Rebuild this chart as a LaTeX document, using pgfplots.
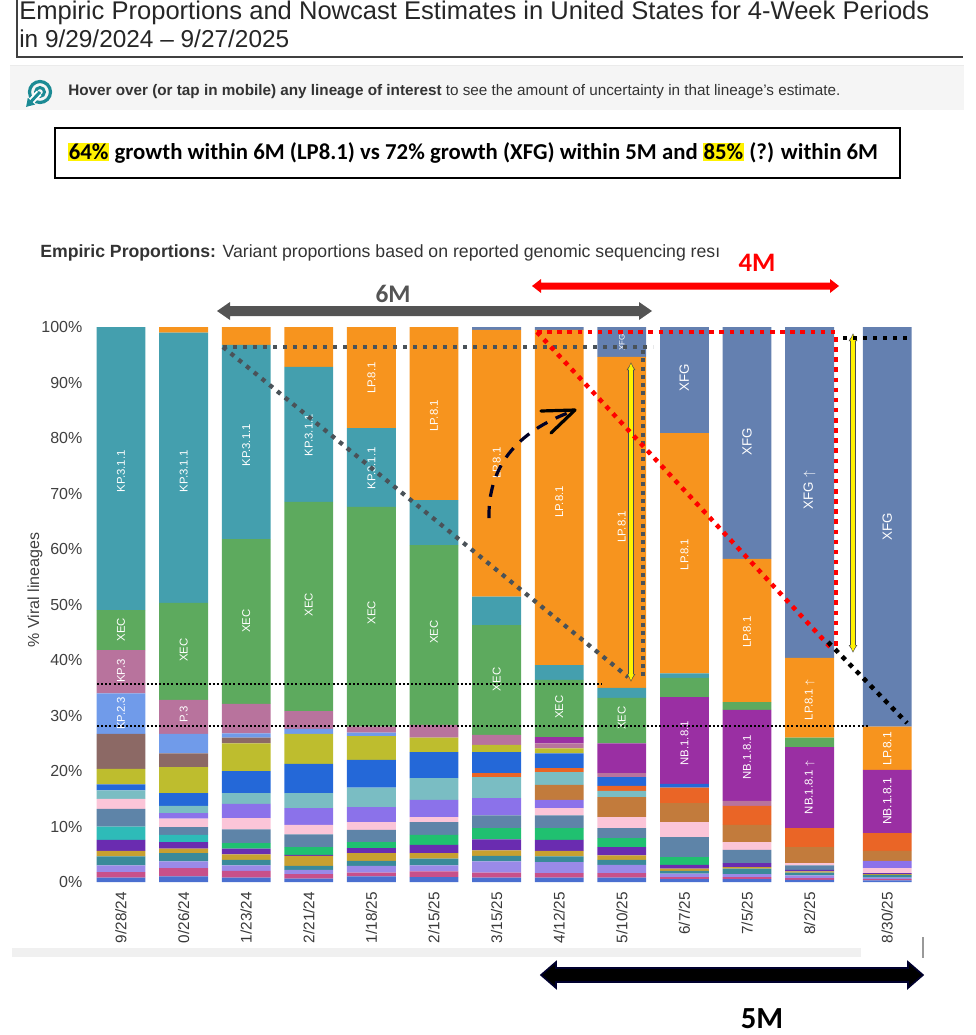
\documentclass[border=0pt]{standalone}
\usepackage{fontspec}
\setmainfont{Liberation Sans}
\newfontfamily\carlito{Carlito}
\usepackage{graphicx}
\usepackage{pgfplots}
\usepackage{pgfplotstable}
\pgfplotsset{compat=1.18}
\usetikzlibrary{arrows.meta}

\definecolor{cte}{HTML}{449FAE}
\definecolor{cxe}{HTML}{5DAA5E}
\definecolor{clp}{HTML}{F7941E}
\definecolor{cxf}{HTML}{6480B0}
\definecolor{cpu}{HTML}{9A2FA3}
\definecolor{cma}{HTML}{B8739D}
\definecolor{clb}{HTML}{709BEA}
\definecolor{cbr}{HTML}{8C6965}
\definecolor{col}{HTML}{BEBD2E}
\definecolor{cbl}{HTML}{2468D8}
\definecolor{clt}{HTML}{7ABDC3}
\definecolor{cvi}{HTML}{8B72EA}
\definecolor{cpk}{HTML}{FBC5D8}
\definecolor{csb}{HTML}{5E84A8}
\definecolor{cgg}{HTML}{20C070}
\definecolor{cbb}{HTML}{C27B3C}
\definecolor{cog}{HTML}{EA6526}
\definecolor{ctt}{HTML}{2EBBB8}
\definecolor{cm1}{HTML}{4A6FD0}
\definecolor{cm2}{HTML}{C8508A}
\definecolor{cm3}{HTML}{9A8AE8}
\definecolor{cm4}{HTML}{3A8A9A}
\definecolor{cm5}{HTML}{C8A030}
\definecolor{cm6}{HTML}{6A2CB0}
\definecolor{icon}{HTML}{1B8A94}
\definecolor{dgray}{HTML}{4A5258}
\definecolor{txt}{HTML}{333333}

\pgfplotstableread{
x     m1  m2  m3  m4  m5  m6  tt  gg  sb  pk  vi  bb  lt  og  bl  ol  br  lb  ma  pu   xe   te   lp   xf
0     0.8 1.0 1.2 1.6 1.0 2.0 2.4 0   3.2 1.8 0   0   1.5 0   1.1 2.8 6.3 7.3 7.8 0    7.2  51   0    0
1     1.0 1.5 1.2 1.5 0.8 1.2 1.3 0   1.4 1.5 1.0 0   1.3 0   2.3 4.7 2.5 3.5 6.1 0    17.5 48.7 1.0  0
2     0.8 1.2 1.0 1.0 1.0 1.0 0   1.0 2.5 2.0 2.6 0   1.9 0   4.0 5.0 1.0 0.8 5.3 0    29.7 35   3.2  0
3     0.6 0.8 0.8 0.7 1.8 0.2 0   1.4 2.3 1.7 3.0 0   2.7 0   5.3 5.4 0   0.9 3.2 0    37.7 24.3 7.2  0
4     1.0 0.7 1.2 0.9 1.4 0.9 0   1.1 2.2 1.4 2.7 0   3.5 0   5.0 4.3 0   0.6 1.1 0    39.6 14.2 18.2 0
5     0.9 1.0 1.1 1.2 1.0 1.5 0   1.8 2.3 0.9 3.1 0   3.9 0   4.7 2.6 0   0   2.3 0    32.4 8.1  31.2 0
6     0.8 0.9 2.0 1.0 1.0 2.0 0   2.0 2.3 0   3.1 0   3.8 0.7 3.8 1.3 0   0   1.8 0    19.8 5.1  48.1 0.5
7     0.8 0.8 2.0 1.0 1.0 2.0 0   2.1 2.3 1.3 1.5 2.7 2.3 0.7 2.7 0.9 0   0   0.9 1.1  10.3 2.7  60.4 0.5
8     0.8 0.8 1.5 0.9 0.8 1.5 0   1.6 1.8 2.0 0   3.6 1.1 0.9 1.6 0   0   0   0.7 5.4  8.2  1.8  59.6 5.4
9     0.5 0.4 0.6 0.5 0.4 0.7 0   1.4 3.6 2.7 0   3.4 0   2.8 0.7 0   0   0   0   15.6 3.5  0.8  43.3 19.1
10    0.5 0.4 0.5 1.0 0.3 0.7 0   0   2.4 1.4 0   3.1 0   3.4 0   0   0   0   0.9 16.4 1.4  0    25.8 41.8
11    0.4 0.3 0.5 0.5 0.2 0.3 0   0   0.8 0.4 0   2.9 0   3.4 0   0   0   0   0   14.6 1.7  0    14.4 59.6
12.24 0.3 0.2 0.3 0.5 0.1 0.2 0   0   0   0.9 1.3 1.8 0   3.2 0   0   0   0   0   11.4 0    0    7.8  72
}\data

\newcommand{\layer}[1]{\addplot[fill=c#1, draw=none] table[x=x, y=#1] {\data};}
% segment label: [font size]{bar position}{percent}{text}
\newcommand{\seg}[4][8.5]{\node[lbl, font=\fontsize{#1}{#1}\selectfont] at ({121+62.6*#2},{882-5.55*#3}) {#4};}

\begin{document}
\begin{tikzpicture}[px/.style={x=0.75pt,y=-0.75pt},
  lbl/.style={text=white, rotate=90, inner sep=0pt}]
\useasboundingbox (0,0) rectangle (731.25pt,-776.25pt);
\clip (0,0) rectangle (731.25pt,-776.25pt);

\begin{scope}[px]
% title block
\node[anchor=base west, inner sep=0pt, text=black!85] at (19,19)
  {\resizebox{682.5pt}{!}{\fontsize{19}{22}\selectfont Empiric Proportions and Nowcast Estimates in United States for 4-Week Periods}};
\node[anchor=base west, inner sep=0pt, text=black!85] at (19,47)
  {\resizebox{202.5pt}{!}{\fontsize{19}{22}\selectfont in 9/29/2024 – 9/27/2025}};
\draw[black!75, line width=1.5pt] (17,-5) -- (17,57) -- (963,57);
% hover band
\fill[black!4] (10,65) rectangle (964,110);
\draw[black!8, line width=0.75pt] (10,65) -- (964,65);
\draw[icon, line width=2.4pt] (40,92) circle (10.5);
\draw[icon, line width=2.2pt] (40,92) circle (4.5);
\draw[white, line width=5pt] (39,93) -- (27,106);
\draw[icon, line width=2.2pt, -{Triangle[length=6pt,width=7pt]}] (40,92) -- (26,107);
\node[anchor=base west, inner sep=0pt, text=txt] at (68,95.5)
  {\resizebox{579pt}{!}{\fontsize{10.5}{12}\selectfont \textbf{Hover over (or tap in mobile) any lineage of interest} to see the amount of uncertainty in that lineage's estimate.}};
% boxed statement
\draw[black, line width=0.9pt] (55,128) rectangle (900,178);
\node[inner sep=0pt] at (473,153)
  {\resizebox{607.5pt}{!}{\carlito\bfseries\fontsize{15}{18}\selectfont\setlength{\fboxsep}{0.6pt}\colorbox{yellow}{64\%} growth within 6M (LP8.1) vs 72\% growth (XFG) within 5M and \colorbox{yellow}{85\%} (?) within 6M}};
% empiric heading
\node[anchor=base west, inner sep=0pt, text=txt] at (40,257)
  {\resizebox{510pt}{!}{\fontsize{12}{14}\selectfont \textbf{Empiric Proportions:} Variant proportions based on reported genomic sequencing resı}};
% 4M red arrow
\node[text=red, font=\carlito\bfseries\fontsize{20}{22}\selectfont, inner sep=0pt] at (757,263) {4M};
\fill[red] (532,286) -- (541,279) -- (541,282.5) -- (830,282.5) -- (830,279) -- (839,286) -- (830,293) -- (830,289.5) -- (541,289.5) -- (541,293) -- cycle;
% 6M gray arrow
\node[text=black!67, font=\carlito\bfseries\fontsize{19}{22}\selectfont, inner sep=0pt] at (393,294) {6M};
\fill[black!67] (217,311) -- (230,302) -- (230,306) -- (639,306) -- (639,302) -- (652,311) -- (639,320) -- (639,316) -- (230,316) -- (230,320) -- cycle;
% y label
\node[rotate=90, text=black!75, font=\fontsize{12}{14}\selectfont] at (35,590) {\% Viral lineages};
% bottom band
\fill[black!6] (12,948) rectangle (861,957);
\draw[black!40, line width=1.2pt] (923,937) -- (923,958);
% 5M arrow
\filldraw[fill=black, draw=black!70!blue!60!black, line width=1.2pt]
  (541,975) -- (556,962) -- (556,968) -- (908,968) -- (908,962) -- (923,975) -- (908,988) -- (908,982) -- (556,982) -- (556,988) -- cycle;
\node[font=\carlito\bfseries\fontsize{23}{25}\selectfont, inner sep=0pt] at (762,1019) {5M};
\end{scope}

\begin{axis}[at={(67.275pt,-661.5pt)}, anchor=south west, scale only axis,
  width=624.45pt, height=416.25pt,
  xmin=-0.5, xmax=12.8, ymin=0, ymax=100,
  ybar stacked, bar width=0.78,
  axis line style={draw=none}, major tick length=0pt,
  ytick={0,10,...,100},
  yticklabels={0\%,10\%,20\%,30\%,40\%,50\%,60\%,70\%,80\%,90\%,100\%},
  yticklabel style={font=\fontsize{12}{13}\selectfont, text=black!75, xshift=-2pt},
  xtick={0,1,2,3,4,5,6,7,8,9,10,11,12.24},
  xticklabels={9/28/24,0/26/24,1/23/24,2/21/24,1/18/25,2/15/25,3/15/25,4/12/25,5/10/25,6/7/25,7/5/25,8/2/25,8/30/25},
  xticklabel style={yshift=-4pt, rotate=90, anchor=east, font=\fontsize{11.5}{12}\selectfont, text=black!78},
  clip=true]
\layer{m1}\layer{m2}\layer{m3}\layer{m4}\layer{m5}\layer{m6}
\layer{tt}\layer{gg}\layer{sb}\layer{pk}\layer{vi}\layer{bb}\layer{lt}\layer{og}
\layer{bl}\layer{ol}\layer{br}\layer{lb}\layer{ma}\layer{pu}\layer{xe}\layer{te}\layer{lp}\layer{xf}
\end{axis}

\begin{scope}[px]
% segment labels
\seg{0}{74}{KP.3.1.1}
\seg{0}{45.5}{XEC}
\seg{0}{38}{KP.3}
\seg{0}{30.4}{KP.2.3}
\seg{1}{74}{KP.3.1.1}
\seg{1}{41.8}{XEC}
\seg{1}{30.2}{P.3}
\seg{2}{78.7}{KP.3.1.1}
\seg{2}{47}{XEC}
\seg{3}{80.5}{KP.3.1.1}
\seg{3}{50}{XEC}
\seg{4}{90.8}{LP.8.1}
\seg{4}{74.5}{KP.3.1.1}
\seg{4}{48.5}{XEC}
\seg{5}{84}{LP.8.1}
\seg{5}{45}{XEC}
\seg{6}{75.5}{LP.8.1}
\seg{6}{36.5}{XEC}
\seg{7}{68.5}{LP.8.1}
\seg{7}{31.5}{XEC}
\seg[6]{8}{97.2}{XFG}
\seg{8}{64}{LP.8.1}
\seg{8}{29.5}{XEC}
\seg[10]{9}{90.8}{XFG}
\seg{9}{59}{LP.8.1}
\seg{9}{25}{NB.1.8.1}
\seg[10]{10}{79.3}{XFG}
\seg{10}{45}{LP.8.1}
\seg{10}{22.5}{NB.1.8.1}
\seg[10]{11}{70.6}{XFG $\uparrow$}
\seg{11}{32.8}{LP.8.1 $\uparrow$}
\seg{11}{17}{NB.1.8.1 $\uparrow$}
\seg[10]{12.24}{64}{XFG}
\seg[9]{12.24}{24}{LP.8.1}
\seg[9]{12.24}{14.5}{NB.1.8.1}
% thin black dotted
\draw[black, line width=1.5pt, dash pattern=on 1.5pt off 1.6pt] (97,684) -- (602,684);
\draw[black, line width=1.5pt, dash pattern=on 1.5pt off 1.6pt] (97,726) -- (868,726);
% gray dotted
\draw[dgray, line width=3.2pt, dash pattern=on 3.2pt off 4.3pt] (223,347) -- (653,347);
\draw[dgray, line width=3.2pt, dash pattern=on 3.2pt off 4.3pt] (223,347) -- (628,677);
\draw[dgray, line width=3pt, dash pattern=on 3pt off 3.2pt] (643,350) -- (643,680);
% yellow arrows
\draw[black!70, line width=4.8pt, {Latex[length=6pt,width=7pt]}-{Latex[length=6pt,width=7pt]}] (631,362) -- (631,682);
\draw[yellow, line width=2.6pt, {Latex[length=5pt,width=5pt]}-{Latex[length=5pt,width=5pt]}] (631,363) -- (631,681);
\draw[black!70, line width=4.8pt, {Latex[length=6pt,width=7pt]}-{Latex[length=6pt,width=7pt]}] (853,333) -- (853,653);
\draw[yellow, line width=2.6pt, {Latex[length=5pt,width=5pt]}-{Latex[length=5pt,width=5pt]}] (853,334) -- (853,652);
% red dotted
\draw[red, line width=3.4pt, dash pattern=on 3.4pt off 4.2pt] (537,332) -- (836,332) -- (836,652);
\draw[red, line width=3.4pt, dash pattern=on 3.4pt off 4.2pt] (537,332) -- (833,650);
% black dotted
\draw[black, line width=3.2pt, dash pattern=on 3.2pt off 4.3pt] (843,338) -- (912,338);
\draw[black, line width=3.4pt, dash pattern=on 3.4pt off 4.2pt] (828,642) -- (907,723);
% dashed hand arrow
\draw[black!85!blue, line width=2.4pt, dash pattern=on 9pt off 7pt] (489,518) .. controls (488,468) and (515,432) .. (573,411);
\draw[black, line width=2.4pt, line cap=round, line join=round] (541,411) -- (575,410) -- (551,433);
\end{scope}
\end{tikzpicture}
\end{document}
